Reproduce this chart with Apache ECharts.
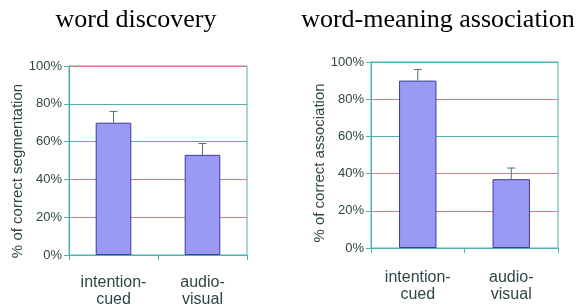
<!DOCTYPE html>
<html>
<head>
<meta charset="utf-8">
<script src="https://cdn.jsdelivr.net/npm/echarts@6/dist/echarts.min.js"></script>
<style>
  html, body { margin: 0; padding: 0; background: #fff; }
  #main { width: 576px; height: 304px; }
</style>
</head>
<body>
<div id="main"></div>
<script>
  // 数据
  const categories = ['intention-\ncued', 'audio-\nvisual'];
  const discoveryValues = [70, 53];
  const discoveryErrors = [6, 6];
  const associationValues = [90, 37];
  const associationErrors = [6, 6];
  const yTicks = [0, 20, 40, 60, 80, 100];

  const chart = echarts.init(document.getElementById('main'));

  const teal = '#4fb0b0';
  const red = '#d67f7f';

  // 网格线颜色（对应 yTicks 20..100）
  const discoveryGridColors = [red, red, teal, teal, red];
  const associationGridColors = [red, red, teal, red, teal];

  function gridLines(colors) {
    return {
      silent: true,
      symbol: 'none',
      label: { show: false },
      data: yTicks.slice(1).map((t, i) => ({ yAxis: t, lineStyle: { color: colors[i], width: 1, type: 'solid' } }))
    };
  }

  function errorBars(values, errors, idx) {
    return {
      type: 'custom',
      xAxisIndex: idx,
      yAxisIndex: idx,
      z: 5,
      data: values.map((v, i) => [i, v, v + errors[i]]),
      renderItem(params, api) {
        const base = api.coord([api.value(0), api.value(1)]);
        const top = api.coord([api.value(0), api.value(2)]);
        const style = { stroke: '#4d6e78', lineWidth: 1 };
        return {
          type: 'group',
          children: [
            { type: 'line', shape: { x1: base[0], y1: base[1], x2: top[0], y2: top[1] }, style },
            { type: 'line', shape: { x1: top[0] - 4, y1: top[1], x2: top[0] + 4, y2: top[1] }, style }
          ]
        };
      }
    };
  }

  function yAxis(idx) {
    return {
      type: 'value',
      gridIndex: idx,
      min: yTicks[0],
      max: yTicks[yTicks.length - 1],
      interval: 20,
      axisLine: { show: true, lineStyle: { color: teal } },
      axisTick: { show: true, length: 5, lineStyle: { color: teal } },
      axisLabel: {
        margin: 7,
        formatter: '{value}%',
        fontFamily: 'Liberation Sans, Arial, sans-serif',
        fontSize: 13,
        color: '#2f4646'
      },
      splitLine: { show: false }
    };
  }

  function xAxis(idx, margin) {
    return {
      type: 'category',
      gridIndex: idx,
      data: categories,
      axisLine: { show: true, lineStyle: { color: teal } },
      axisTick: { show: true, length: 5, lineStyle: { color: teal } },
      axisLabel: {
        margin: margin,
        fontFamily: 'Liberation Sans, Arial, sans-serif',
        fontSize: 16,
        lineHeight: 17,
        color: '#2f4646'
      }
    };
  }

  const barStyle = { color: '#9a9af5', borderColor: '#3c3c9c', borderWidth: 1 };

  const option = {
    animation: false,
    title: [
      {
        text: 'word discovery',
        left: 131, top: 2, textAlign: 'center',
        textStyle: { fontFamily: 'Liberation Serif, Times New Roman, serif', fontSize: 26, fontWeight: 'normal', color: '#000' }
      },
      {
        text: 'word-meaning association',
        left: 433, top: 2, textAlign: 'center',
        textStyle: { fontFamily: 'Liberation Serif, Times New Roman, serif', fontSize: 26, fontWeight: 'normal', color: '#000' }
      }
    ],
    grid: [
      { left: 69, top: 66, width: 178, height: 189, outerBoundsMode: 'none', show: true, borderColor: teal, borderWidth: 1, backgroundColor: '#fff' },
      { left: 371, top: 62, width: 187, height: 186, outerBoundsMode: 'none', show: true, borderColor: teal, borderWidth: 1, backgroundColor: '#fff' }
    ],
    xAxis: [xAxis(0, 19), xAxis(1, 21)],
    yAxis: [yAxis(0), yAxis(1)],
    graphic: [
      {
        type: 'text', x: 18, y: 171, rotation: Math.PI / 2,
        style: {
          text: '% of correct segmentation', align: 'center', verticalAlign: 'middle',
          font: '15px "Liberation Sans", Arial, sans-serif', fill: '#2f4646'
        }
      },
      {
        type: 'text', x: 320, y: 163, rotation: Math.PI / 2,
        style: {
          text: '% of correct association', align: 'center', verticalAlign: 'middle',
          font: '15px "Liberation Sans", Arial, sans-serif', fill: '#2f4646'
        }
      }
    ],
    series: [
      {
        type: 'bar', xAxisIndex: 0, yAxisIndex: 0, data: discoveryValues, barWidth: '40%', itemStyle: barStyle,
        markLine: Object.assign({ z: 1 }, gridLines(discoveryGridColors))
      },
      {
        type: 'bar', xAxisIndex: 1, yAxisIndex: 1, data: associationValues, barWidth: '40%', itemStyle: barStyle,
        markLine: Object.assign({ z: 1 }, gridLines(associationGridColors))
      },
      errorBars(discoveryValues, discoveryErrors, 0),
      errorBars(associationValues, associationErrors, 1)
    ]
  };

  chart.setOption(option);
</script>
</body>
</html>
